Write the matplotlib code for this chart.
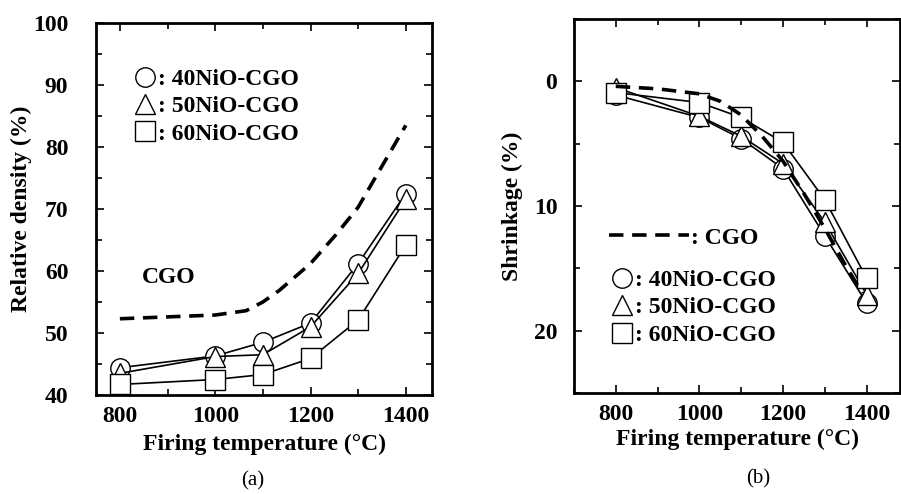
import matplotlib
matplotlib.use("Agg")
import matplotlib.pyplot as plt
from matplotlib.lines import Line2D
from matplotlib.ticker import MultipleLocator

plt.rcParams['font.family'] = ['Liberation Serif', 'DejaVu Serif']
plt.rcParams['font.weight'] = 'bold'

# firing temperatures (deg C)
temps = [800, 1000, 1100, 1200, 1300, 1400]

# (a) relative density (%)
dens_40 = [44.4, 46.3, 48.5, 51.6, 61.2, 72.5]
dens_50 = [43.5, 46.2, 46.5, 51.0, 59.6, 71.6]
dens_60 = [41.7, 42.5, 43.3, 45.9, 52.1, 64.2]
cgo_dens_t = [800, 900, 1000, 1065, 1100, 1135, 1200, 1255, 1300, 1340, 1400]
cgo_dens = [52.3, 52.6, 52.9, 53.6, 55.0, 56.9, 61.2, 66.0, 70.3, 75.6, 83.5]

# (b) shrinkage (%)
shr_40 = [1.1, 2.9, 4.6, 7.0, 12.4, 17.8]
shr_50 = [0.5, 2.8, 4.4, 6.6, 11.3, 17.1]
shr_60 = [0.9, 1.7, 2.9, 4.9, 9.5, 15.8]
cgo_shr_t = [800, 900, 1000, 1050, 1100, 1150, 1200, 1250, 1300, 1350, 1390]
cgo_shr = [0.4, 0.6, 1.0, 1.6, 2.7, 4.4, 6.4, 9.0, 11.8, 14.8, 17.0]

labels = [': 40NiO-CGO', ': 50NiO-CGO', ': 60NiO-CGO']
markers = ['o', '^', 's']

FS = 17
fig = plt.figure(figsize=(9.01, 4.94), dpi=100)
axa = fig.add_axes([0.1066, 0.2004, 0.3729, 0.753])
axb = fig.add_axes([0.637, 0.2045, 0.362, 0.757])

mk = dict(color='black', lw=1.2, ms=14, mfc='white', mec='black', mew=1.0)
dash = (0, (4, 2.4))

def style(ax, ypad):
    for s in ax.spines.values():
        s.set_linewidth(2.0)
    ax.tick_params(which='both', direction='in', top=True, right=True,
                   labelsize=FS, width=1.2)
    ax.tick_params(which='major', length=6)
    ax.tick_params(axis='x', which='major', pad=8)
    ax.tick_params(axis='y', which='major', pad=ypad)
    ax.tick_params(which='minor', length=4)
    for lab in ax.get_xticklabels() + ax.get_yticklabels():
        lab.set_fontweight('bold')

# ---- (a)
for ys, m in zip([dens_40, dens_50, dens_60], markers):
    axa.plot(temps, ys, marker=m, **mk)
axa.plot(cgo_dens_t, cgo_dens, color='black', lw=2.6, ls=dash)
axa.set_xlim(750, 1455)
axa.set_ylim(40, 100)
axa.xaxis.set_major_locator(MultipleLocator(200))
axa.xaxis.set_minor_locator(MultipleLocator(100))
axa.yaxis.set_major_locator(MultipleLocator(10))
axa.yaxis.set_minor_locator(MultipleLocator(5))
style(axa, 20)
axa.set_xlabel('Firing temperature (°C)', fontsize=FS, fontweight='bold', labelpad=5)
axa.set_ylabel('Relative density (%)', fontsize=FS, fontweight='bold', labelpad=1)
axa.text(0.217, 0.315, 'CGO', transform=axa.transAxes, fontsize=FS, fontweight='bold',
         ha='center', va='center')
hnd = [Line2D([], [], ls='none', marker=m, ms=14, mfc='white', mec='black', mew=1.0)
       for m in markers]
axa.legend(hnd, labels, loc='upper left', bbox_to_anchor=(0.08, 0.91), frameon=False,
           prop={'size': FS, 'weight': 'bold'}, handlelength=0.9, handletextpad=0.1,
           labelspacing=0.25, borderpad=0)
fig.text(0.281, 0.026, '(a)', fontsize=15, fontweight='normal', ha='center', va='center')

# ---- (b)
for ys, m in zip([shr_40, shr_50, shr_60], markers):
    axb.plot(temps, ys, marker=m, **mk)
axb.plot(cgo_shr_t, cgo_shr, color='black', lw=2.6, ls=dash)
axb.set_xlim(700, 1480)
axb.set_ylim(25, -5)
axb.xaxis.set_major_locator(MultipleLocator(200))
axb.xaxis.set_minor_locator(MultipleLocator(100))
axb.yaxis.set_major_locator(MultipleLocator(10))
axb.yaxis.set_minor_locator(MultipleLocator(5))
axb.set_yticks([0, 10, 20])
style(axb, 12)
axb.set_xlabel('Firing temperature (°C)', fontsize=FS, fontweight='bold', labelpad=3)
axb.set_ylabel('Shrinkage (%)', fontsize=FS, fontweight='bold', labelpad=8)
leg1 = axb.legend([Line2D([], [], color='black', lw=2.6, ls=dash)], [': CGO'],
                  loc='upper left', bbox_to_anchor=(0.07, 0.475), frameon=False,
                  prop={'size': FS, 'weight': 'bold'}, handlelength=3.4,
                  handletextpad=0.1, borderpad=0)
axb.add_artist(leg1)
axb.legend(hnd, labels, loc='upper left', bbox_to_anchor=(0.08, 0.362), frameon=False,
           prop={'size': FS, 'weight': 'bold'}, handlelength=0.9, handletextpad=0.1,
           labelspacing=0.25, borderpad=0)
fig.text(0.841, 0.03, '(b)', fontsize=15, fontweight='normal', ha='center', va='center')

fig.savefig('out.png', dpi=100)
